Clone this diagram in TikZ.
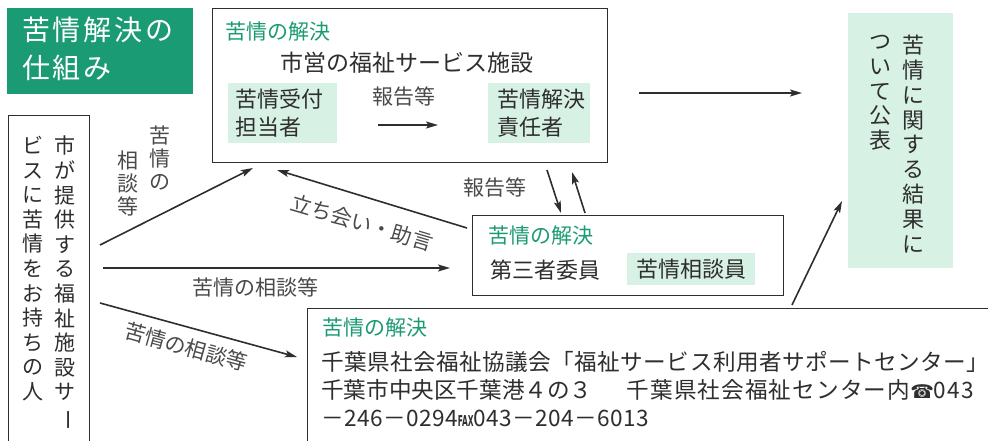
\documentclass[tikz,border=0pt]{standalone}
\usepackage{graphicx}
\usepackage{fontspec}
\setmainfont{Noto Sans CJK JP}
\newfontfamily\symfont{DejaVu Sans}
\usetikzlibrary{arrows.meta}
\definecolor{tgreen}{HTML}{1B9B73}
\definecolor{lgreen}{HTML}{D8F1E5}
\definecolor{ink}{HTML}{2E2E2E}
\definecolor{lab}{HTML}{4A4A4A}
\newcommand{\fs}[2]{\fontsize{#1}{#2}\selectfont}
\newcommand{\vbar}{\rotatebox[origin=c]{-90}{ー}}
\tikzset{
  frame/.style={draw=ink, line width=1.1pt, fill=white, inner sep=0pt, anchor=north west},
  gbox/.style={fill=lgreen, inner sep=0pt, anchor=north west},
  arr/.style={-{Stealth[length=12pt,width=7pt,inset=2.5pt]}, line width=1.6pt, draw=ink},
  gtitle/.style={text=tgreen, font=\fs{21}{24}, anchor=west, inner sep=0pt},
  txt/.style={text=ink, font=\fs{22}{25}, inner sep=0pt},
  labl/.style={text=lab, font=\fs{21}{24}, inner sep=0pt},
  vcol/.style={text=ink, align=center, inner sep=0pt, anchor=north},
}
\begin{document}
\begin{tikzpicture}[x=1pt,y=-1pt]
\useasboundingbox (0,0) rectangle (988,441);
% title
\node[fill=tgreen, minimum width=186pt, minimum height=86pt, anchor=north west, inner sep=0pt] (title) at (7,8) {};
\node[text=white, font=\fs{28}{38}\addfontfeature{LetterSpace=10}, align=left, anchor=north west, inner sep=0pt] (titletext) at (22,17) {苦情解決の\\仕組み};
% top box
\node[frame, minimum width=395pt, minimum height=154pt] (top) at (212,8) {};
\node[gtitle] (topg) at (225,32) {苦情の解決};
\node[txt, font=\fs{23}{25}] (toptxt) at (407,63) {市営の福祉サービス施設};
\node[gbox, minimum width=109pt, minimum height=60pt] (recv) at (228,83) {};
\node[txt, align=left, anchor=north west, font=\fs{22}{28}] (recvt) at (235,89) {苦情受付\\担当者};
\node[gbox, minimum width=102pt, minimum height=60pt] (resp) at (488,83) {};
\node[txt, align=left, anchor=north west, font=\fs{22}{28}] (respt) at (497,89) {苦情解決\\責任者};
\node[labl] (rep1) at (404,97) {報告等};
\coordinate (r1s) at (378,125);
\coordinate (r1e) at (438,125);
\draw[arr] (r1s) -- (r1e);
% right box
\node[gbox, minimum width=105pt, minimum height=255pt] (pub) at (848,13) {};
\node[vcol, font=\fs{22}{24.8}] (pub1) at (913,35) {苦\\情\\に\\関\\す\\る\\結\\果\\に};
\node[vcol, font=\fs{22}{24.8}] (pub2) at (880,35) {つ\\い\\て\\公\\表};
\coordinate (t2s) at (639,93);
\coordinate (t2e) at (802,93);
\draw[arr] (t2s) -- (t2e);
% left box
\node[frame, minimum width=81pt, minimum height=340pt] (user) at (8,115) {};
\node[vcol, font=\fs{21}{24.6}] (user1) at (65,136) {市\\が\\提\\供\\す\\る\\福\\祉\\施\\設\\サ\\\vbar};
\node[vcol, font=\fs{21}{24.6}] (user2) at (33,136) {ビ\\ス\\に\\苦\\情\\を\\お\\持\\ち\\の\\人};
% third party box
\node[frame, minimum width=311pt, minimum height=80pt] (third) at (472,215) {};
\node[gtitle] (thirdg) at (488,236) {苦情の解決};
\node[txt, anchor=west] (thirdt) at (490,270) {第三者委員};
\node[gbox, minimum width=128pt, minimum height=32pt] (couns) at (627,253) {};
\node[txt] (counst) at (691,269) {苦情相談員};
% bottom box
\node[frame, minimum width=700pt, minimum height=160pt] (chiba) at (307,308) {};
\node[gtitle] (chibag) at (322,328) {苦情の解決};
\node[txt, anchor=west, font=\fs{22.6}{25}\addfontfeature{LetterSpace=2}] (chiba1) at (321,362) {千葉県社会福祉協議会「福祉サービス利用者サポートセンター」};
\node[txt, anchor=west, font=\fs{22.6}{25}] (chiba2a) at (321,390) {千葉市中央区千葉港４の３};
\node[txt, anchor=east, font=\fs{22.6}{25}\addfontfeature{LetterSpace=5}] (chiba2b) at (974,390) {千葉県社会福祉センター内{\symfont\fs{19}{19}☎}043};
\node[txt, anchor=west, font=\fs{22.6}{25}\addfontfeature{LetterSpace=2}] (chiba3) at (321,418) {－246－0294{\symfont\bfseries\fs{15}{15}\scalebox{0.5}[1]{FAX}}043－204－6013};
% arrows from the user
\coordinate (a1s) at (100,245);
\coordinate (a1e) at (253,168);
\coordinate (a2s) at (103,268);
\coordinate (a2e) at (450,268);
\coordinate (a3s) at (100,303);
\coordinate (a3e) at (297,357);
\draw[arr] (a1s) -- (a1e);
\draw[arr] (a2s) -- (a2e);
\draw[arr] (a3s) -- (a3e);
\node[vcol, text=lab, font=\fs{21}{23}] (l1a) at (160,126) {苦\\情\\の};
\node[vcol, text=lab, font=\fs{21}{23}] (l1b) at (128,151) {相\\談\\等};
\node[labl] (l2) at (255,287) {苦情の相談等};
\node[labl, rotate=-15.5] (l3) at (186,347) {苦情の相談等};
% advice arrow
\coordinate (a4s) at (467,228);
\coordinate (a4e) at (277,170);
\draw[arr] (a4s) -- (a4e);
\node[labl, rotate=-16.5] (l4) at (362,223) {立ち会い・助言};
% up/down between top and third
\coordinate (d1s) at (547,170);
\coordinate (d1e) at (561,213);
\coordinate (u1s) at (585,213);
\coordinate (u1e) at (572,172);
\draw[arr] (d1s) -- (d1e);
\draw[arr] (u1s) -- (u1e);
\node[labl] (rep2) at (495,188) {報告等};
% bottom to right
\coordinate (b1s) at (792,305);
\coordinate (b1e) at (842,201);
\draw[arr] (b1s) -- (b1e);
\end{tikzpicture}
\end{document}
